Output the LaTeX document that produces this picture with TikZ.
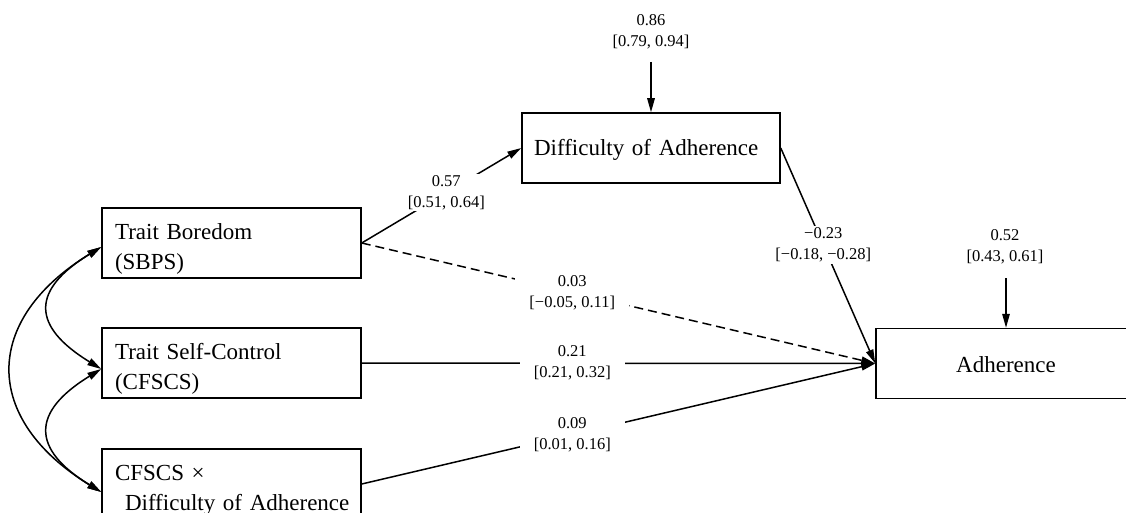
\documentclass[tikz,border=0pt]{standalone}
\usepackage{fontspec}
\setmainfont{Liberation Serif}
\usetikzlibrary{arrows.meta,calc}
\newcommand{\topstrut}{\rule{0pt}{28pt}}
\begin{document}
\begin{tikzpicture}[x=1pt,y=-1pt,
  box/.style={draw, line width=1.5pt, minimum height=70pt, inner sep=0pt, font=\fontsize{23}{30}\selectfont},
  lbox/.style={box, text width=233pt, inner xsep=13pt, align=left},
  lab/.style={fill=white, inner xsep=14pt, inner ysep=1.5pt, align=center, font=\fontsize{16.5}{21}\selectfont},
  reslab/.style={inner sep=1pt, align=center, font=\fontsize{16.5}{21}\selectfont},
  tip/.tip={Triangle[length=14pt,width=7.5pt]},
  arr/.style={line width=1.5pt, -tip},
  dbl/.style={line width=1.5pt, tip-tip}]
\path[use as bounding box, clip] (0,0) rectangle (1126,513);

% boxes
\node[lbox] (bor) at (231.5,243) {\topstrut\mbox{Trait Boredom}\\\mbox{(SBPS)}};
\node[lbox] (sc) at (231.5,363) {\topstrut\mbox{Trait Self-Control}\\\mbox{(CFSCS)}};
\node[lbox] (cf) at (231.5,484) {\topstrut\mbox{CFSCS ×}\\\mbox{\hspace*{10pt}Difficulty of Adherence}};
\node[box, text width=234pt, inner xsep=12pt, align=left, text height=19pt] (dif) at (651,148) {\mbox{Difficulty of Adherence}};
\node[box, minimum width=260pt, text height=19pt] (adh) at (1006,363.5) {Adherence};

% residuals
\node[reslab] (r1) at (651,32) {0.86\\{[0.79, 0.94]}};
\coordinate (r1s) at (651,62);
\draw[arr] (r1s) -- (dif.north);
\node[reslab] (r2) at (1005,247) {0.52\\{[0.43, 0.61]}};
\coordinate (r2s) at (1006,278);
\draw[arr] (r2s) -- (adh.north);

% paths
\draw[arr] (bor.east) -- node[lab,pos=0.53]{0.57\\{[0.51, 0.64]}} (dif.west);
\draw[arr, dash pattern=on 9pt off 5pt] (bor.east) -- node[lab,pos=0.41]{0.03\\{[−0.05, 0.11]}} (adh.west);
\draw[arr] (sc.east) -- node[lab,pos=0.41]{0.21\\{[0.21, 0.32]}} (adh.west);
\draw[arr] (cf.east) -- node[lab,pos=0.41]{0.09\\{[0.01, 0.16]}} (adh.west);
\draw[arr] (dif.east) -- node[lab,pos=0.45]{−0.23\\{[−0.18, −0.28]}} (adh.west);

% covariances
\coordinate (bA) at ($(bor.west)+(0,4)$);
\coordinate (sA) at ($(sc.west)+(0,6)$);
\coordinate (cA) at ($(cf.west)+(0,8)$);
\draw[dbl] (bA) .. controls (31,290) and (31,326) .. (sA);
\draw[dbl] (sA) .. controls (31,412) and (31,449) .. (cA);
\draw[dbl] (bA) .. controls (-18,320) and (-18,419) .. (cA);
\end{tikzpicture}
\end{document}
